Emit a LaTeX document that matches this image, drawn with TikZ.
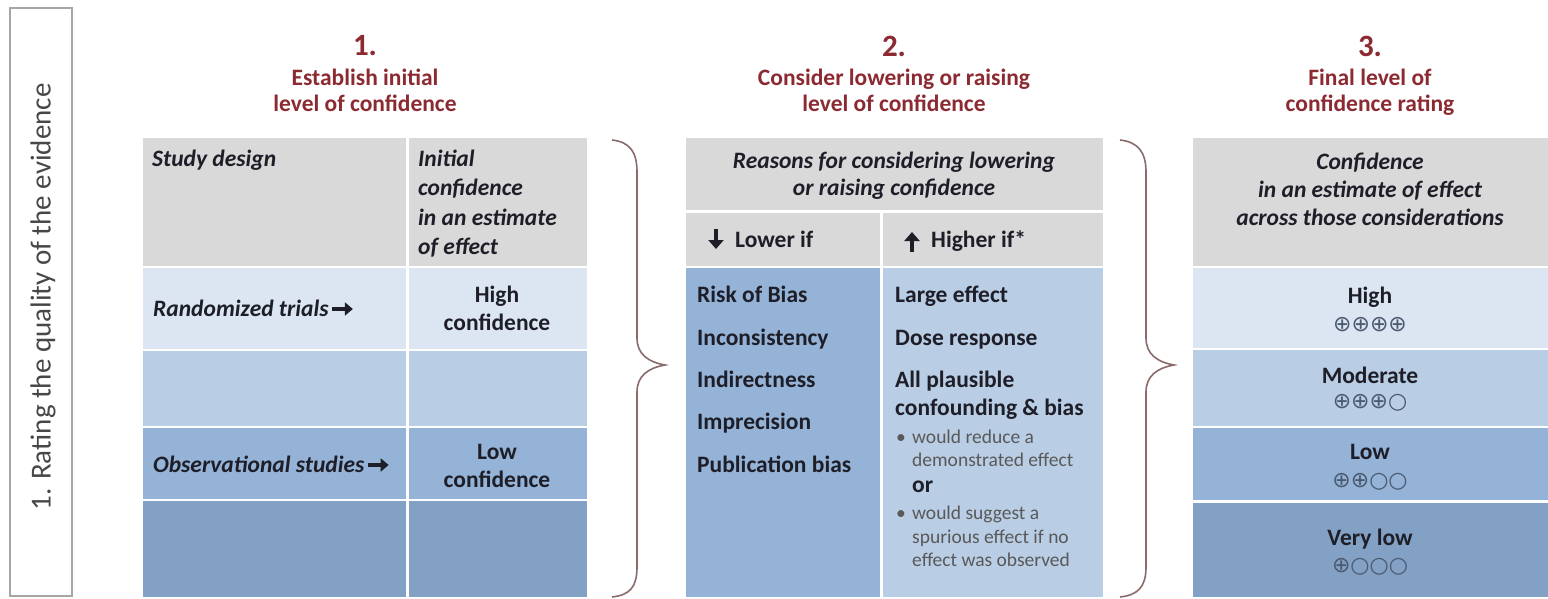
\documentclass[tikz,border=0pt]{standalone}
\usepackage{fontspec}
\usetikzlibrary{arrows.meta}
\setmainfont{Carlito}
\newfontfamily\dejavu{DejaVu Sans}
\definecolor{hdr}{HTML}{D9D9D9}
\definecolor{bA}{HTML}{DCE6F2}
\definecolor{bB}{HTML}{B9CDE5}
\definecolor{bC}{HTML}{95B3D7}
\definecolor{bD}{HTML}{83A1C5}
\definecolor{ttl}{HTML}{8C2A32}
\definecolor{brc}{HTML}{8A6A6A}
\definecolor{txt}{HTML}{1E1E28}
\definecolor{sym}{HTML}{4A5A70}
\tikzset{
  ttlnum/.style={text=ttl, font=\fontsize{31}{34}\selectfont\bfseries, inner sep=0pt},
  ttltext/.style={text=ttl, font=\fontsize{23.5}{26}\selectfont\bfseries, inner sep=0pt},
  hd/.style={font=\fontsize{23.5}{26}\selectfont\bfseries\itshape, text=txt, inner sep=0pt},
  bd/.style={font=\fontsize{23.5}{26}\selectfont\bfseries, text=txt, inner sep=0pt},
  sm/.style={font=\fontsize{19.5}{22}\selectfont, text=black!65, inner sep=0pt},
  circ/.style={font=\fontsize{22}{24}\selectfont\dejavu, text=sym, inner sep=0pt},
  bracepath/.style={draw=brc, line width=1.6pt},
  heavyarrow/.style={draw=txt, line width=3.2pt, -{Triangle[length=8pt,width=13pt]}},
  updown/.style={draw=txt, line width=4pt, -{Triangle[length=9pt,width=15pt]}},
}
\begin{document}
\begin{tikzpicture}[x=1pt,y=-1pt]
\useasboundingbox (0,0) rectangle (1548,599);
\fill[white] (0,0) rectangle (1548,599);

% left vertical box
\node[draw=gray!70, line width=2pt, minimum width=62pt, minimum height=588pt, inner sep=0pt] (sidebox) at (41,302) {};
\node[rotate=90, font=\fontsize{29}{32}\selectfont, text=black!72, inner sep=0pt] (sidetext) at (43,297) {1. Rating the quality of the evidence};

% ---------------- titles
\node[ttlnum] (t1n) at (365,46) {1.};
\node[ttltext, anchor=base] (t1a) at (365,86) {Establish initial};
\node[ttltext, anchor=base] (t1b) at (365,112) {level of confidence};
\node[ttlnum] (t2n) at (894,46) {2.};
\node[ttltext, anchor=base] (t2a) at (894,86) {Consider lowering or raising};
\node[ttltext, anchor=base] (t2b) at (894,112) {level of confidence};
\node[ttlnum] (t3n) at (1370,46) {3.};
\node[ttltext, anchor=base] (t3a) at (1370,86) {Final level of};
\node[ttltext, anchor=base] (t3b) at (1370,112) {confidence rating};

% ---------------- table 1 cells
\fill[hdr] (143,138) rectangle (406,266);
\fill[hdr] (409,138) rectangle (587,266);
\fill[bA] (143,268) rectangle (406,349);
\fill[bA] (409,268) rectangle (587,349);
\fill[bB] (143,351) rectangle (406,426);
\fill[bB] (409,351) rectangle (587,426);
\fill[bC] (143,428) rectangle (406,499);
\fill[bC] (409,428) rectangle (587,499);
\fill[bD] (143,501) rectangle (406,597);
\fill[bD] (409,501) rectangle (587,597);

\node[hd, anchor=base west] (sd) at (152,167) {Study design};
\node[hd, anchor=base west] (ic1) at (418,167) {Initial};
\node[hd, anchor=base west] (ic2) at (418,196) {confidence};
\node[hd, anchor=base west] (ic3) at (418,225) {in an estimate};
\node[hd, anchor=base west] (ic4) at (418,254) {of effect};
\node[hd, anchor=base west] (rt) at (153,316) {Randomized trials};
\draw[heavyarrow] ([xshift=3pt,yshift=7pt]rt.base east) -- ([xshift=24pt,yshift=7pt]rt.base east);
\node[bd, anchor=base] (hc1) at (497,302) {High};
\node[bd, anchor=base] (hc2) at (497,330) {confidence};
\node[hd, anchor=base west] (os) at (153,472) {Observational studies};
\draw[heavyarrow] ([xshift=3pt,yshift=7pt]os.base east) -- ([xshift=24pt,yshift=7pt]os.base east);
\node[bd, anchor=base] (lc1) at (497,459) {Low};
\node[bd, anchor=base] (lc2) at (497,487) {confidence};

% ---------------- brace 1
\draw[bracepath] (612,140) .. controls (630,142) and (637,152) .. (637,172) -- (637,338) .. controls (637,354) and (648,362) .. (665,365) .. controls (648,368) and (637,376) .. (637,392) -- (637,567) .. controls (637,587) and (630,595) .. (612,597);

% ---------------- table 2 cells
\fill[hdr] (686,138) rectangle (1103,210);
\fill[hdr] (686,213) rectangle (880,266);
\fill[hdr] (883,213) rectangle (1103,266);
\fill[bC] (686,268) rectangle (880,597);
\fill[bB] (883,268) rectangle (1103,597);

\node[hd, anchor=base] (rs1) at (894,168) {Reasons for considering lowering};
\node[hd, anchor=base] (rs2) at (894,196) {or raising confidence};
\node[bd, anchor=base west] (lw) at (735,247) {Lower if};
\coordinate (lwtop) at (716,229);
\coordinate (lwbot) at (716,249);
\draw[updown] (lwtop) -- (lwbot);
\node[bd, anchor=base west] (hg) at (931,247) {Higher if*};
\coordinate (hgbot) at (912,252);
\coordinate (hgtop) at (912,232);
\draw[updown] (hgbot) -- (hgtop);

\node[bd, anchor=base west] (l1) at (697,302) {Risk of Bias};
\node[bd, anchor=base west] (l2) at (697,345) {Inconsistency};
\node[bd, anchor=base west] (l3) at (697,387) {Indirectness};
\node[bd, anchor=base west] (l4) at (697,429) {Imprecision};
\node[bd, anchor=base west] (l5) at (697,472) {Publication bias};

\node[bd, anchor=base west] (h1) at (895,302) {Large effect};
\node[bd, anchor=base west] (h2) at (895,345) {Dose response};
\node[bd, anchor=base west] (h3) at (895,387) {All plausible};
\node[bd, anchor=base west] (h4) at (895,415) {confounding \& bias};
\node[sm, anchor=base west] (s1b) at (896,443) {•};
\node[sm, anchor=base west] (s1) at (912,443) {would reduce a};
\node[sm, anchor=base west] (s2) at (912,466) {demonstrated effect};
\node[bd, anchor=base west] (or) at (912,492) {or};
\node[sm, anchor=base west] (s3b) at (896,519) {•};
\node[sm, anchor=base west] (s3) at (912,519) {would suggest a};
\node[sm, anchor=base west] (s4) at (912,543) {spurious effect if no};
\node[sm, anchor=base west] (s5) at (912,566) {effect was observed};

% ---------------- brace 2
\draw[bracepath] (1120,140) .. controls (1138,142) and (1146,152) .. (1146,172) -- (1146,338) .. controls (1146,354) and (1157,362) .. (1174,365) .. controls (1157,368) and (1146,376) .. (1146,392) -- (1146,567) .. controls (1146,587) and (1138,595) .. (1120,597);

% ---------------- table 3 cells
\fill[hdr] (1193,138) rectangle (1548,266);
\fill[bA] (1193,268) rectangle (1548,348);
\fill[bB] (1193,350) rectangle (1548,426);
\fill[bC] (1193,428) rectangle (1548,500);
\fill[bD] (1193,503) rectangle (1548,597);

\node[hd, anchor=base] (c1) at (1370,169) {Confidence};
\node[hd, anchor=base] (c2) at (1370,197) {in an estimate of effect};
\node[hd, anchor=base] (c3) at (1370,225) {across those considerations};

\node[bd, anchor=base] (fh) at (1370,303) {High};
\node[circ] (fhc) at (1370,325) {⊕⊕⊕⊕};
\node[bd, anchor=base] (fm) at (1370,383) {Moderate};
\node[circ] (fmc) at (1370,403) {⊕⊕⊕○};
\node[bd, anchor=base] (fl) at (1370,459) {Low};
\node[circ] (flc) at (1370,482) {⊕⊕○○};
\node[bd, anchor=base] (fv) at (1370,545) {Very low};
\node[circ] (fvc) at (1370,567) {⊕○○○};
\end{tikzpicture}
\end{document}
